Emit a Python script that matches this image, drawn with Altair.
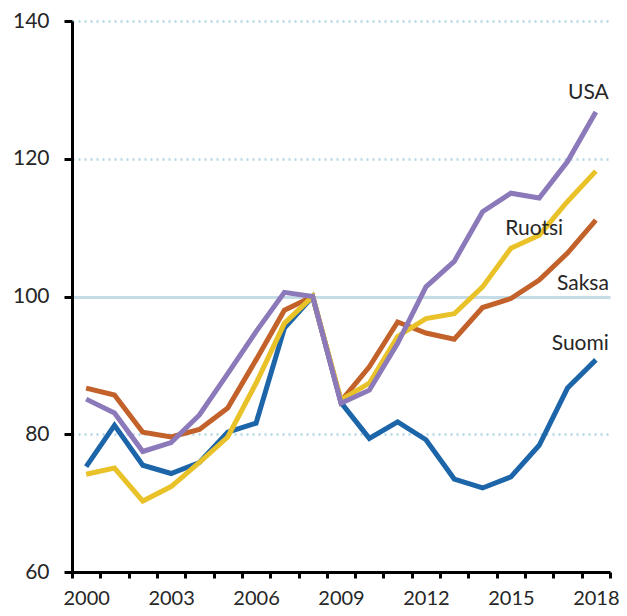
import altair as alt
import pandas as pd

years = list(range(2000, 2019))

suomi = [75.3, 81.3, 75.5, 74.3, 75.9, 80.3, 81.6, 95.4, 100.0, 84.6,
         79.4, 81.8, 79.2, 73.5, 72.2, 73.8, 78.4, 86.7, 90.8]
saksa = [86.7, 85.7, 80.3, 79.6, 80.7, 83.8, 90.8, 98.0, 100.0, 84.8,
         89.8, 96.3, 94.7, 93.8, 98.4, 99.7, 102.4, 106.3, 111.1]
ruotsi = [74.2, 75.1, 70.3, 72.4, 75.9, 79.6, 87.4, 96.1, 100.0, 85.0,
          87.4, 94.2, 96.8, 97.5, 101.4, 107.0, 108.9, 113.8, 118.2]
usa = [85.1, 83.1, 77.5, 78.8, 82.8, 88.8, 94.9, 100.6, 100.0, 84.5,
       86.4, 93.2, 101.4, 105.1, 112.3, 115.0, 114.3, 119.6, 126.8]

series_names = ["Suomi", "Saksa", "Ruotsi", "USA"]
series_colors = ["#1c65a8", "#c3612a", "#e9c229", "#8b79b9"]

label_names = ["USA", "Ruotsi", "Saksa", "Suomi"]
label_years = [2018, 2016, 2018, 2018]
label_values = [129.6, 109.8, 101.8, 93.1]
label_align = ["right", "center", "right", "right"]

y_ticks = [60, 80, 100, 120, 140]

rows = []
for name, vals in zip(series_names, [suomi, saksa, ruotsi, usa]):
    for yr, v in zip(years, vals):
        rows.append({"maa": name, "vuosi": yr, "arvo": v})
df = pd.DataFrame(rows)

labels = pd.DataFrame({"maa": label_names, "vuosi": label_years,
                       "arvo": label_values, "align": label_align})

FONT = "Lato"
TXT = "#262626"

x_enc = alt.X(
    "vuosi:O",
    bandPosition=0.5,
    scale=alt.Scale(type="band", paddingInner=0, paddingOuter=0, domain=years),
    axis=alt.Axis(
        title=None,
        labelAngle=0,
        tickBand="extent",
        labelExpr="(datum.value - 2000) % 3 == 0 ? datum.value : ''",
        domainColor="black",
        domainWidth=3,
        tickColor="black",
        tickWidth=3,
        tickSize=6,
        labelPadding=10,
        labelFont=FONT,
        labelFontSize=20,
        labelColor=TXT,
        grid=False,
    ),
)

y_scale = alt.Scale(domain=[60, 140], nice=False, zero=False)
y_axis = alt.Axis(
    title=None,
    values=y_ticks,
    domainColor="black",
    domainWidth=3,
    tickColor="black",
    tickWidth=3,
    tickSize=8,
    labelPadding=15,
    labelFont=FONT,
    labelFontSize=21,
    labelColor=TXT,
    grid=True,
    gridColor={"condition": {"test": "datum.value === 100", "value": "#c3dce6"}, "value": "#b3d5e2"},
    gridWidth={"condition": {"test": "datum.value === 100", "value": 3}, "value": 2.5},
    gridDash={"condition": {"test": "datum.value === 100", "value": []}, "value": [2, 4]},
    gridOpacity={"condition": {"test": "datum.value === 60", "value": 0}, "value": 1},
)

lines = alt.Chart(df).mark_line(strokeWidth=5, strokeJoin="miter").encode(
    x=x_enc,
    y=alt.Y("arvo:Q", scale=y_scale, axis=y_axis),
    color=alt.Color("maa:N", scale=alt.Scale(domain=series_names, range=series_colors), legend=None),
    order=alt.Order("vuosi:O"),
)

text_right = alt.Chart(labels[labels["align"] == "right"]).mark_text(
    align="right", baseline="middle", dx=13, font=FONT, fontSize=21, color=TXT
).encode(
    x=alt.X("vuosi:O", bandPosition=0.5),
    y=alt.Y("arvo:Q"),
    text="maa:N",
)
text_center = alt.Chart(labels[labels["align"] == "center"]).mark_text(
    align="center", baseline="middle", dx=-5, font=FONT, fontSize=21, color=TXT
).encode(
    x=alt.X("vuosi:O", bandPosition=0.5),
    y=alt.Y("arvo:Q"),
    text="maa:N",
)

chart = alt.layer(lines, text_right, text_center).properties(
    width=538,
    height=551,
    autosize=alt.AutoSizeParams(type="none"),
    padding={"left": 64, "top": 13, "right": 9, "bottom": 36},
).configure_view(stroke=None)

chart.save("out.html", embed_options={"renderer": "svg", "actions": False})
